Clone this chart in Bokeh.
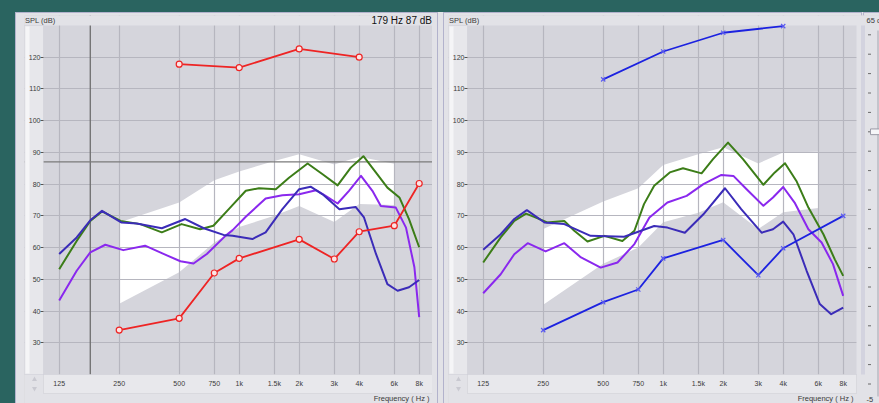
from bokeh.plotting import figure
from bokeh.layouts import row
from bokeh.models import Range1d, FixedTicker, Span, Label, BoxAnnotation, Node
from bokeh.embed import file_html
from bokeh.resources import INLINE

# ---------------- data ----------------
FREQ_TICKS = [125, 250, 500, 750, 1000, 1500, 2000, 3000, 4000, 6000, 8000]
FREQ_LABELS = ["125", "250", "500", "750", "1k", "1.5k", "2k", "3k", "4k", "6k", "8k"]
SPL_TICKS = [30, 40, 50, 60, 70, 80, 90, 100, 110, 120]

TARGET_FREQ = [250, 500, 750, 1000, 1500, 2000, 3000, 4000, 6000]

# Left ear
left_target_hi = [67.9, 74.2, 81.2, 84.0, 87.3, 89.4, 86.2, 88.6, 86.4]
left_target_lo = [42.3, 52.2, 61.6, 66.5, 70.0, 73.1, 68.1, 73.7, 73.4]

left_green_f = [125, 153, 179, 205, 254, 319, 409, 514, 637, 742, 901, 1079, 1257, 1526, 1778,
                2204, 2621, 3117, 3630, 4199, 4857, 5540, 6364, 7111, 8000]
left_green_db = [53.2, 62.1, 68.4, 71.4, 68.4, 67.4, 64.8, 67.4, 65.8, 66.9, 72.6, 77.9, 78.7, 78.4, 82.0,
                 86.5, 83.1, 79.6, 85.2, 88.8, 83.6, 78.9, 75.8, 69.0, 60.1]

left_purple_f = [125, 153, 179, 213, 262, 337, 417, 507, 590, 688, 853, 927, 1079, 1357, 1647, 2000,
                 2428, 2713, 3117, 3555, 4084, 4659, 5134, 6105, 6868, 7568, 8000]
left_purple_db = [43.3, 52.7, 58.5, 60.9, 59.2, 60.6, 58.0, 55.7, 55.0, 58.0, 63.7, 65.5, 69.7, 75.5, 76.5, 76.8,
                  78.1, 76.3, 73.9, 77.9, 82.6, 77.9, 73.1, 72.6, 66.3, 53.8, 38.1]

left_indigo_f = [125, 153, 179, 205, 257, 306, 409, 536, 664, 835, 927, 1165, 1357, 1647, 2000, 2282,
                 2621, 3182, 3837, 4228, 4857, 5540, 6233, 7111, 8000]
left_indigo_db = [58.0, 63.2, 68.6, 71.6, 67.9, 67.6, 66.1, 69.0, 66.1, 64.0, 63.7, 62.7, 64.8, 72.1, 78.4, 79.2,
                  76.8, 72.1, 72.8, 69.5, 58.0, 48.5, 46.4, 47.5, 49.8]

left_thr_f = [250, 500, 750, 1000, 2000, 3000, 4000, 6000, 8000]
left_thr_db = [34.0, 37.7, 52.0, 56.6, 62.6, 56.4, 65.0, 66.9, 80.2]
left_ucl_f = [500, 1000, 2000, 4000]
left_ucl_db = [117.8, 116.7, 122.6, 120.0]

cursor_freq = 179
cursor_db = 87

# Right ear
right_target_hi = [65.9, 74.5, 78.7, 86.0, 89.4, 91.6, 86.5, 90.0, 90.2]
right_target_lo = [42.0, 54.9, 60.0, 68.0, 71.0, 74.3, 65.9, 71.1, 72.5]

right_green_f = [125, 153, 179, 205, 233, 262, 319, 358, 417, 507, 624, 717, 801, 901, 1079, 1257, 1558,
                 1778, 2114, 2514, 3182, 3630, 4084, 4659, 5351, 6364, 7260, 8000]
right_green_db = [55.3, 63.2, 68.4, 70.7, 69.3, 67.9, 68.4, 65.3, 61.9, 63.7, 62.1, 65.3, 73.7, 79.5, 83.7, 85.0, 83.4,
                  87.9, 93.1, 87.9, 79.8, 83.7, 86.6, 81.0, 72.6, 64.2, 56.3, 51.1]

right_purple_f = [125, 153, 179, 209, 257, 319, 387, 486, 590, 717, 853, 1050, 1311, 1591, 1959, 2250,
                  2621, 3182, 3555, 4000, 4563, 5351, 6233, 7111, 8000]
right_purple_db = [45.6, 51.6, 57.9, 61.4, 58.8, 61.4, 56.9, 53.7, 55.3, 61.1, 69.5, 74.2, 76.3, 80.0, 82.9, 82.6,
                   78.4, 73.2, 75.8, 79.1, 74.2, 65.8, 61.6, 54.8, 44.8]

right_indigo_f = [125, 153, 179, 207, 254, 319, 432, 637, 774, 901, 1050, 1284, 1591, 2042, 2462, 3117,
                  3555, 4000, 4500, 5243, 6105, 6964, 8000]
right_indigo_db = [59.3, 64.2, 69.0, 71.8, 67.9, 67.4, 63.7, 63.4, 65.3, 66.8, 66.3, 64.7, 70.5, 78.7, 72.1, 64.7,
                   65.8, 68.2, 64.2, 52.7, 42.2, 39.0, 41.1]

right_thr_f = [250, 500, 750, 1000, 2000, 3000, 4000, 8000]
right_thr_db = [34.0, 42.8, 46.8, 56.6, 62.4, 51.3, 59.8, 70.0]
right_ucl_f = [500, 1000, 2000, 4000]
right_ucl_db = [113.0, 121.8, 127.7, 129.8]

slider_marks = list(range(19))
slider_knob = 5
slider_top_label = "65 dB"
slider_bottom_label = "-5"

# ---------------- style / geometry ----------------
TEAL = "#2a6460"
PANEL_BG = "#e2e2e7"
PLOT_BG = "#d5d5dc"
GRID = "#b6b6bf"
BORDER = "#b2b2cc"
STRIP = "#e8e8ec"
STRIP_LINE = "#bdbdc6"
GREEN = "#3c7d18"
PURPLE = "#8a28ee"
INDIGO = "#3b2cb8"
RED = "#ee2424"
BLUE = "#1c22e0"
FONT = "Liberation Sans"
TXT = "#3a3a3a"

PX_OCT = 60.0       # pixels per octave
PX_DB = 3.1733      # pixels per dB
FRAME_TOP = 15
PLOT_TOP, PLOT_BOT = 25, 374
STRIP_BOT = 393
H = 403
RIGHT_EDGE = 879


def f_at(ax, x125):
    return 125 * 2 ** ((ax - x125) / PX_OCT)


def db_at(ay):
    return 120 - (ay - 56.7) / PX_DB


def fn(symbol, offset=0):
    return Node(target="frame", symbol=symbol, offset=offset)


def box(p, l, r, t, b, fill=None, line=None):
    p.add_layout(BoxAnnotation(left=l, right=r, top=t, bottom=b,
                               fill_color=fill, fill_alpha=1.0 if fill else 0.0,
                               line_color=line, line_width=1, level="underlay"))


def css_bg(layers):
    return {
        "background-color": PANEL_BG,
        "background-image": ", ".join(f"linear-gradient({c}, {c})" for (_, _, _, _, c) in layers),
        "background-position": ", ".join(f"{x}px {y}px" for (x, y, _, _, _) in layers),
        "background-size": ", ".join(f"{w}px {h}px" for (_, _, w, h, _) in layers),
        "background-repeat": "no-repeat",
    }


def make_panel(canvas_x0, frame_left, frame_right, canvas_x1, x125, layers):
    fw = frame_right - frame_left
    p = figure(frame_width=fw, frame_height=H - FRAME_TOP, x_axis_type="log", x_axis_location="above",
               x_range=Range1d(f_at(frame_left, x125), f_at(frame_right, x125)),
               y_range=Range1d(db_at(H), db_at(FRAME_TOP)),
               output_backend="svg", toolbar_location=None,
               min_border_left=frame_left - canvas_x0, min_border_right=canvas_x1 - frame_right,
               min_border_top=FRAME_TOP, min_border_bottom=0,
               background_fill_color=PLOT_BG, border_fill_color=None,
               outline_line_color=None, styles=css_bg(layers))

    # frequency axis, drawn in the strip under the plot area
    xa = p.xaxis[0]
    xa.ticker = FixedTicker(ticks=FREQ_TICKS)
    xa.major_label_overrides = {f: lab for f, lab in zip(FREQ_TICKS, FREQ_LABELS)}
    xa.fixed_location = db_at(STRIP_BOT)
    xa.axis_line_color = None
    xa.major_tick_in = 0
    xa.major_tick_out = 0
    xa.minor_tick_line_color = None
    xa.major_label_standoff = 7
    xa.major_label_text_font_size = "7px"
    xa.major_label_text_font = FONT
    xa.major_label_text_color = TXT

    # SPL axis, drawn at the left edge of the plot area
    ya = p.yaxis[0]
    ya.ticker = FixedTicker(ticks=SPL_TICKS)
    ya.fixed_location = f_at(frame_left + 19, x125)
    ya.axis_line_color = None
    ya.major_tick_in = 0
    ya.major_tick_out = 3
    ya.major_tick_line_color = "#555"
    ya.minor_tick_line_color = None
    ya.major_label_standoff = 0
    ya.major_label_text_font_size = "7px"
    ya.major_label_text_font = FONT
    ya.major_label_text_color = TXT

    p.xgrid.ticker = FixedTicker(ticks=FREQ_TICKS)
    p.ygrid.ticker = FixedTicker(ticks=SPL_TICKS)
    for g in (p.xgrid[0], p.ygrid[0]):
        g.grid_line_color = GRID
        g.grid_line_width = 1.2
    return p


def decorate(p, frame_left, plot_right, x125):
    top_gap = PLOT_TOP - FRAME_TOP
    bot_gap = PLOT_BOT - H
    # panel chrome inside the frame, painted over the grid
    box(p, fn("left"), fn("right"), fn("top"), fn("top", top_gap), fill=PANEL_BG)
    box(p, fn("left"), fn("right"), fn("bottom", bot_gap), fn("bottom"), fill=PANEL_BG)
    box(p, fn("left"), fn("left", 19), fn("top", top_gap), fn("bottom", bot_gap),
        fill="#e7e7eb", line="#c4c4cc")
    box(p, fn("left", 1), fn("left", 5), fn("top", top_gap + 1), fn("bottom", bot_gap - 1),
        fill="#f5f5f7")
    box(p, fn("left", 19), fn("left", plot_right - frame_left), fn("bottom", bot_gap),
        fn("bottom", STRIP_BOT - H), fill=STRIP, line=STRIP_LINE)
    # little spinner arrows at the lower-left corner
    sx = f_at(frame_left + 10, x125)
    p.scatter([sx], [db_at(379)], marker="triangle", size=5, fill_color="#c9c9d1", line_color=None)
    p.scatter([sx], [db_at(388)], marker="inverted_triangle", size=5, fill_color="#c9c9d1", line_color=None)

    p.add_layout(Label(x=f_at(frame_left + 0.5, x125), y=db_at(20), text="SPL (dB)", text_font=FONT,
                       text_font_size="7.5px", text_color=TXT,
                       text_align="left", text_baseline="middle"))
    p.add_layout(Label(x=f_at(plot_right - 3, x125), y=db_at(398), text="Frequency ( Hz )", text_font=FONT,
                       text_font_size="7.5px", text_color=TXT,
                       text_align="right", text_baseline="middle"))


def target(p, hi, lo):
    r = p.patch(TARGET_FREQ + TARGET_FREQ[::-1], hi + lo[::-1],
                fill_color="white", line_color=None)
    r.level = "image"


# ---- left panel: canvas 0..432, frame 24..432, plot area 43..432 ----
XL = 58.7
L_LAYERS = [
    (0, 0, 2000, 12, TEAL), (0, 0, 15, 2000, TEAL),
    (15, 12, 1, 2000, BORDER), (15, 12, 2000, 1, BORDER),
]
pL = make_panel(0, 24, 432, 432, XL, L_LAYERS)
target(pL, left_target_hi, left_target_lo)
pL.add_layout(Span(location=cursor_freq, dimension="height", line_color="#6e6e6e",
                   line_width=1.3, level="underlay"))
pL.add_layout(Span(location=cursor_db, dimension="width", line_color="#7a7a7a",
                   line_width=1.2, level="underlay"))
decorate(pL, 24, 432, XL)
for f, d, c in ((left_green_f, left_green_db, GREEN), (left_purple_f, left_purple_db, PURPLE),
                (left_indigo_f, left_indigo_db, INDIGO)):
    pL.line(f, d, line_color=c, line_width=2, line_join="round")
for f, d in ((left_thr_f, left_thr_db), (left_ucl_f, left_ucl_db)):
    pL.line(f, d, line_color=RED, line_width=1.8)
    pL.scatter(f, d, marker="circle", size=6, fill_color="#fbe4e4", line_color=RED, line_width=1.2)
pL.add_layout(Label(x=f_at(431.5, XL), y=db_at(20), text=f"{cursor_freq} Hz {cursor_db} dB",
                    text_font=FONT, text_font_size="10px", text_color="#111",
                    text_align="right", text_baseline="middle"))

# ---- right panel + slider strip: canvas 432..879, frame 448..879, plot area 467..856 ----
XR = 482.7
R_LAYERS = [
    (0, 0, 2000, 12, TEAL),
    (0, 12, 6, 1, BORDER), (5, 12, 1, 2000, BORDER),
    (11, 12, 1, 2000, BORDER), (11, 12, 419, 1, BORDER), (429, 12, 1, 2000, BORDER),
    (431, 12, 1, 2000, BORDER), (431, 12, 100, 1, BORDER),
]
pR = make_panel(432, 448, RIGHT_EDGE, RIGHT_EDGE, XR, R_LAYERS)
target(pR, right_target_hi, right_target_lo)
# slider area right of the plot area, with the two panel borders
box(pR, fn("right", 856 - RIGHT_EDGE), fn("right"), fn("top"), fn("bottom"), fill=PANEL_BG)
box(pR, fn("right", 861 - RIGHT_EDGE), fn("right", 862 - RIGHT_EDGE), fn("top"), fn("bottom"), fill="#c4c4d8")
box(pR, fn("right", 863 - RIGHT_EDGE), fn("right", 864 - RIGHT_EDGE), fn("top"), fn("bottom"), fill="#c4c4d8")
decorate(pR, 448, 856, XR)
for f, d, c in ((right_green_f, right_green_db, GREEN), (right_purple_f, right_purple_db, PURPLE),
                (right_indigo_f, right_indigo_db, INDIGO)):
    pR.line(f, d, line_color=c, line_width=2, line_join="round")
for f, d in ((right_thr_f, right_thr_db), (right_ucl_f, right_ucl_db)):
    pR.line(f, d, line_color=BLUE, line_width=1.8)
    pR.scatter(f, d, marker="x", size=6, line_color="#5a5af0", line_width=1.2)

# slider: marks placed every 19.4 px from y=34.3
slider_y = [db_at(34.3 + 19.4 * m) for m in slider_marks]
pR.line([f_at(877.5, XR)] * 2, [db_at(30), db_at(396)], line_color="#a6a6b0", line_width=1)
pR.scatter([f_at(869, XR)] * len(slider_marks), slider_y, marker="dash", size=3, line_color="#6a6a6a")
ky = db_at(34.3 + 19.4 * slider_knob)
pR.quad(left=[f_at(870, XR)], right=[f_at(879, XR)], top=[ky + 0.9], bottom=[ky - 0.9],
        fill_color="#f6f6f8", line_color="#9a9aa6")
pR.add_layout(Label(x=f_at(866, XR), y=db_at(20), text=slider_top_label, text_font=FONT,
                    text_font_size="7.5px", text_color=TXT, text_align="left", text_baseline="middle"))
pR.add_layout(Label(x=f_at(866, XR), y=db_at(399), text=slider_bottom_label, text_font=FONT,
                    text_font_size="7.5px", text_color=TXT, text_align="left", text_baseline="middle"))

layout = row(pL, pR)
open("out.html", "w").write(file_html(layout, INLINE))
